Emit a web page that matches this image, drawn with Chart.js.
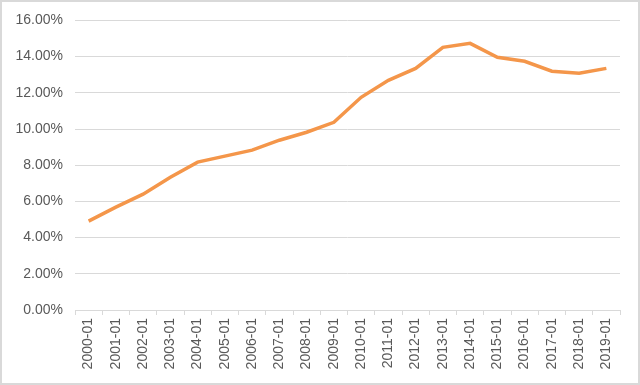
<!DOCTYPE html>
<html>
<head>
<meta charset="utf-8">
<script src="https://cdn.jsdelivr.net/npm/chart.js@4"></script>
<style>
  html, body { margin: 0; padding: 0; background: #fff; }
  .box {
    width: 640px; height: 385px; box-sizing: border-box;
    border: 2px solid #d9d9d9; position: relative;
  }
  canvas { position: absolute; left: -2px; top: -2px; }
</style>
</head>
<body>
<div class="box"><canvas id="rateChart" width="640" height="385"></canvas></div>
<script>
// Months (x axis categories)
const months = [
    '2000-01', '2001-01', '2002-01', '2003-01', '2004-01',
    '2005-01', '2006-01', '2007-01', '2008-01', '2009-01',
    '2010-01', '2011-01', '2012-01', '2013-01', '2014-01',
    '2015-01', '2016-01', '2017-01', '2018-01', '2019-01'
];

// Rate, as a fraction (0.05 = 5.00%)
const rates = [
    0.0491, 0.0568, 0.0640, 0.0734, 0.0817,
    0.0850, 0.0883, 0.0938, 0.0982, 0.1037,
    0.1175, 0.1269, 0.1335, 0.1451, 0.1473,
    0.1396, 0.1374, 0.1319, 0.1308, 0.1335
];

// Y axis ticks
const yMin = 0;
const yMax = 0.16;
const yStep = 0.02;

function initializeRateChart() {
    const ctx = document.getElementById("rateChart");
    if (!ctx) return;

    const textColor = '#595959';
    const gridColor = '#d9d9d9';
    const font = { family: "'Liberation Sans', Arial, sans-serif", size: 14 };

    new Chart(ctx, {
        type: 'line',
        data: {
            labels: months,
            datasets: [{
                data: rates,
                borderColor: '#f4964a',
                borderWidth: 3.5,
                pointRadius: 0,
                tension: 0,
                fill: false
            }]
        },
        options: {
            responsive: false,
            animation: false,
            layout: {
                padding: { top: 20, bottom: 0, left: 0, right: 20 }
            },
            plugins: {
                legend: { display: false },
                tooltip: { enabled: false }
            },
            scales: {
                x: {
                    offset: true,
                    grid: {
                        offset: true,
                        drawOnChartArea: false,
                        drawTicks: true,
                        tickLength: 5,
                        color: gridColor
                    },
                    border: { color: gridColor, width: 1 },
                    ticks: {
                        color: textColor,
                        font: font,
                        minRotation: 90,
                        maxRotation: 90,
                        autoSkip: false,
                        padding: 3
                    },
                    afterFit: (scale) => { scale.height = 75; }
                },
                y: {
                    min: yMin,
                    max: yMax,
                    grid: { color: gridColor, drawTicks: false },
                    border: { display: false },
                    ticks: {
                        stepSize: yStep,
                        color: textColor,
                        font: font,
                        padding: 12,
                        callback: (value) => (value * 100).toFixed(2) + '%'
                    },
                    afterFit: (scale) => { scale.width = 75; }
                }
            }
        }
    });
}

document.addEventListener("DOMContentLoaded", function () {
    initializeRateChart();
});
</script>
</body>
</html>
